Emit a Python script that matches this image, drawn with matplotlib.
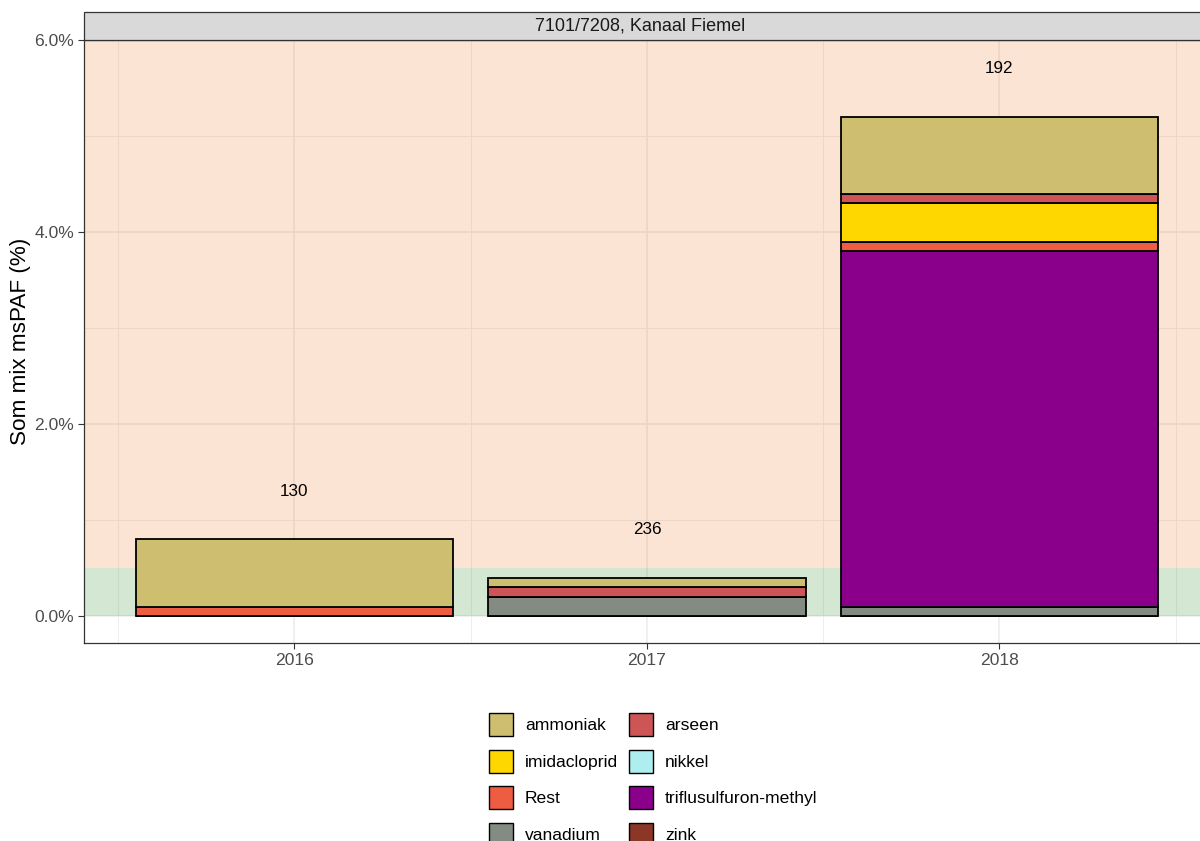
import matplotlib
matplotlib.use("Agg")
import matplotlib.pyplot as plt
from matplotlib.patches import Patch, Rectangle
from matplotlib.ticker import FuncFormatter, MultipleLocator
import numpy as np

plt.rcParams["font.family"] = ["Liberation Sans", "DejaVu Sans"]

# Data: mix msPAF contribution per substance (%) per year
years = ["2016", "2017", "2018"]
n_samples = [130, 236, 192]

# stacking order, bottom to top
substances = ["zink", "vanadium", "triflusulfuron-methyl", "Rest", "nikkel",
              "imidacloprid", "arseen", "ammoniak"]
values = {
    "zink":                  [0.0, 0.0, 0.0],
    "vanadium":              [0.0, 0.2, 0.1],
    "triflusulfuron-methyl": [0.0, 0.0, 3.7],
    "Rest":                  [0.1, 0.0, 0.1],
    "nikkel":                [0.0, 0.0, 0.0],
    "imidacloprid":          [0.0, 0.0, 0.4],
    "arseen":                [0.0, 0.1, 0.1],
    "ammoniak":              [0.7, 0.1, 0.8],
}
colors = {
    "ammoniak": "#CDBE70",
    "arseen": "#CD5555",
    "imidacloprid": "#FFD700",
    "nikkel": "#AEEEEE",
    "Rest": "#EE5C42",
    "triflusulfuron-methyl": "#8B008B",
    "vanadium": "#838B83",
    "zink": "#8B3626",
}
legend_order = ["ammoniak", "imidacloprid", "Rest", "vanadium",
                "arseen", "nikkel", "triflusulfuron-methyl", "zink"]

threshold = 0.5
title = "7101/7208, Kanaal Fiemel"

W, H = 1200, 841
fig = plt.figure(figsize=(W / 100, H / 100), dpi=100)
px_l, px_r, px_t, px_b = 84, 1211, 40, 643
ax = fig.add_axes([px_l / W, 1 - px_b / H, (px_r - px_l) / W, (px_b - px_t) / H])

x = np.arange(len(years))
ax.set_xlim(-0.597, 2.6)
ax.set_ylim(-0.28, 6.0)

# background bands
ax.axhspan(0, threshold, color=(35/255, 135/255, 35/255), alpha=0.2, lw=0, zorder=1)
ax.axhspan(threshold, 7, color=(240/255, 120/255, 40/255), alpha=0.2, lw=0, zorder=1)

# grid
ax.set_axisbelow(True)
ax.yaxis.set_major_locator(MultipleLocator(2))
ax.yaxis.set_minor_locator(MultipleLocator(1))
ax.set_xticks(x)
ax.set_xticks(np.r_[-0.5, x + 0.5], minor=True)
ax.grid(which="major", color="#EBEBEB", lw=1.1, zorder=0.5)
ax.grid(which="minor", color="#EBEBEB", lw=0.6, zorder=0.5)

bottom = np.zeros(len(years))
for s in substances:
    v = np.array(values[s])
    ax.bar(x, v, width=0.9, bottom=bottom, color=colors[s],
           edgecolor="black", linewidth=1.3, zorder=2)
    bottom += v

for xi, tot, n in zip(x, bottom, n_samples):
    ax.text(xi, tot + 0.5, str(n), ha="center", va="center", fontsize=12.3,
            color="black", zorder=3)

ax.set_xticklabels(years)
ax.yaxis.set_major_formatter(FuncFormatter(lambda v, p: f"{v:.1f}%"))
ax.tick_params(which="major", length=4, width=0.8, color="#333333",
               labelsize=12.6, labelcolor="#4D4D4D", pad=3)
ax.tick_params(which="minor", length=0)
for sp in ax.spines.values():
    sp.set_color("#333333")
    sp.set_linewidth(0.9)

# facet strip
strip = Rectangle((px_l / W, 1 - px_t / H), (px_r - px_l) / W, 28 / H,
                  transform=fig.transFigure, facecolor="#D9D9D9",
                  edgecolor="#333333", lw=0.9, clip_on=False)
fig.add_artist(strip)
fig.text(640 / W, 1 - 26 / H, title, ha="center", va="center",
         fontsize=13, color="#1A1A1A")

fig.text(21 / W, 1 - (px_t + px_b) / 2 / H, "Som mix msPAF (%)", rotation=90,
         ha="center", va="center", fontsize=16.2, color="black")

handles = [Patch(facecolor=colors[s], edgecolor="black", linewidth=1.0)
           for s in legend_order]
fig.legend(handles, legend_order, ncol=2, loc="upper left",
           bbox_to_anchor=(489 / W, 1 - 713 / H), frameon=False,
           fontsize=12.6, handlelength=1.37, handleheight=1.65,
           handletextpad=0.69, columnspacing=0.63, labelspacing=0.77,
           borderpad=0, borderaxespad=0)

fig.savefig("out.png", dpi=100)
